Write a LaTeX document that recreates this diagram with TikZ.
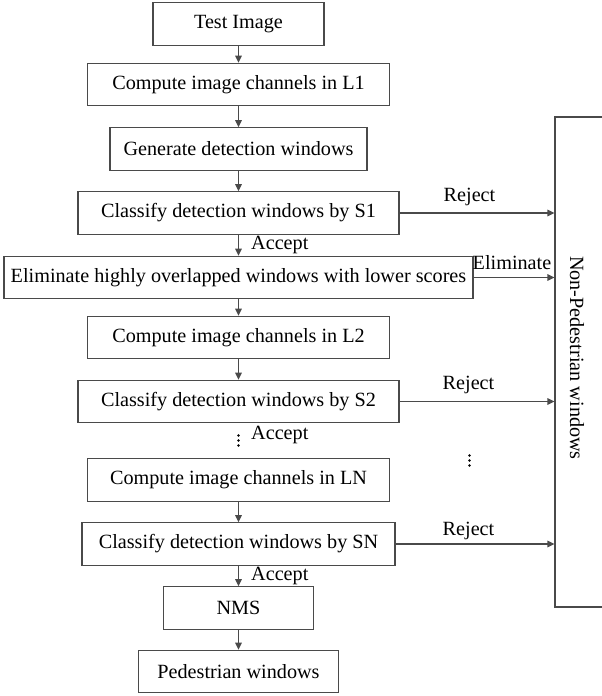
\documentclass[tikz,border=0pt]{standalone}
\usepackage{fontspec}
\setmainfont{Liberation Serif}
\usetikzlibrary{arrows.meta}
\definecolor{linec}{HTML}{4A4A4A}
\tikzset{
  stepbox/.style={draw=linec, line width=1.1pt, inner sep=0pt, minimum height=42.5pt, font=\fontsize{20.2}{24}\selectfont},
  lbl/.style={inner sep=0pt, font=\fontsize{20.2}{24}\selectfont},
  arr/.style={draw=linec, line width=1.1pt, -{Triangle[length=7pt,width=6.5pt]}},
  dotc/.style={fill=black, draw=none}
}
\begin{document}
\begin{tikzpicture}[x=1pt,y=-1pt]
\useasboundingbox (0,0) rectangle (602,696);
\clip (0,0) rectangle (602,696);
\node[stepbox, minimum width=171pt] (test) at (238.5,24) {Test Image};
\node[stepbox, minimum width=302pt] (l1) at (238.5,84.5) {Compute image channels in L1};
\node[stepbox, minimum width=257pt] (gen) at (238.5,149) {Generate detection windows};
\node[stepbox, minimum width=321pt] (s1) at (238.5,213) {Classify detection windows by S1};
\node[stepbox, minimum width=469pt] (elim) at (238.5,277.5) {Eliminate highly overlapped windows with lower scores};
\node[stepbox, minimum width=302pt] (l2) at (238.5,337.5) {Compute image channels in L2};
\node[stepbox, minimum width=321pt] (s2) at (238.5,401.5) {Classify detection windows by S2};
\node[stepbox, minimum width=302pt] (ln) at (238.5,480) {Compute image channels in LN};
\node[stepbox, minimum width=313pt] (sn) at (238.5,544) {Classify detection windows by SN};
\node[stepbox, minimum width=150pt] (nms) at (238.5,608) {NMS};
\node[stepbox, minimum width=200pt] (ped) at (238.5,671.5) {Pedestrian windows};
\node[draw=linec, line width=1.1pt, inner sep=0pt, minimum width=65pt, minimum height=490pt] (nonp) at (587.5,362) {};
\node[lbl, rotate=-90] (nonptext) at (577,358) {Non-Pedestrian windows};

\draw[arr] (test) -- (l1);
\draw[arr] (l1) -- (gen);
\draw[arr] (gen) -- (s1);
\draw[arr] (s1) -- (elim);
\draw[arr] (elim) -- (l2);
\draw[arr] (l2) -- (s2);
\draw[arr] (ln) -- (sn);
\draw[arr] (sn) -- (nms);
\draw[arr] (nms) -- (ped);

\draw[arr] (s1.east) -- (s1.east -| nonp.west);
\draw[arr] (elim.east) -- (elim.east -| nonp.west);
\draw[arr] (s2.east) -- (s2.east -| nonp.west);
\draw[arr] (sn.east) -- (sn.east -| nonp.west);

\node[lbl] (rej1) at (469.5,197) {Reject};
\node[lbl] (elimlbl) at (512,263) {Eliminate};
\node[lbl] (rej2) at (468.5,385) {Reject};
\node[lbl] (rej3) at (468.5,531) {Reject};

\node[lbl, anchor=west] (acc1) at (251,245) {Accept};
\node[lbl, anchor=west] (acc2) at (251,435) {Accept};
\node[lbl, anchor=west] (acc3) at (251,576) {Accept};

\foreach \yy in {435.5,440.5,445.5} \fill[dotc] (238.5,\yy) circle (1.3pt);
\foreach \yy in {455.5,460.5,465.5} \fill[dotc] (469.5,\yy) circle (1.3pt);
\end{tikzpicture}
\end{document}
